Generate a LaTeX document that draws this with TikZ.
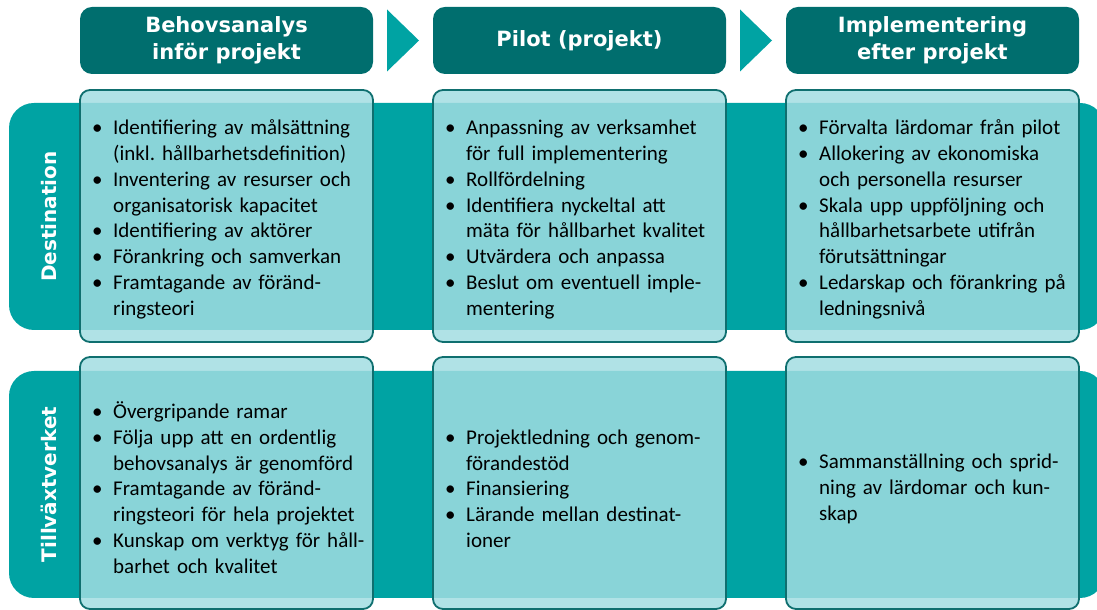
\documentclass[tikz,border=0pt]{standalone}
\usepackage{fontspec}
\setmainfont{Carlito}
\newfontfamily\headfont{DejaVu Sans}
\usepackage{xcolor}
\usepackage{tikz}
\usetikzlibrary{positioning,calc}
\frenchspacing

\definecolor{hdrteal}{HTML}{006E6E}
\definecolor{bandteal}{HTML}{00A3A3}
\definecolor{cellfill}{HTML}{A2DDE2}
\definecolor{celledge}{HTML}{0F6F6F}

% one bullet point, later lines hang under the text
\newcommand{\bpoint}[1]{\par\noindent\hangindent=21pt\hangafter=1\makebox[21pt][l]{\textbullet}#1\par}

\begin{document}
\begin{tikzpicture}[
    x=1pt, y=1pt,
    phase/.style={rectangle, rounded corners=12pt, fill=hdrteal, text=white, minimum width=293pt, minimum height=67pt, inner sep=0pt, outer sep=0pt, align=center, font=\headfont\bfseries\fontsize{21}{27}\selectfont},
    band/.style={rectangle, rounded corners=25pt, fill=bandteal, minimum width=1096pt, minimum height=227pt, inner sep=0pt, outer sep=0pt},
    rowlabel/.style={rotate=90, text=white, inner sep=0pt, font=\headfont\bfseries\fontsize{20}{24}\selectfont},
    cell/.style={rectangle, rounded corners=10pt, draw=celledge, line width=1.8pt, fill=cellfill, fill opacity=0.85, minimum width=293pt, minimum height=252pt, inner sep=0pt, outer sep=0pt},
    items/.style={anchor=west, inner sep=0pt, text width=300pt, align=left, font=\fontsize{21}{25.8}\selectfont},
    chevron/.style={fill=bandteal}
]

    \useasboundingbox (0,0) rectangle (1097,610);

    % Row bands (run out past the right edge)
    \node [band] (destBand) at (557,393.5) {};
    \node [band] (tillBand) at (557,125.5) {};
    \node [rowlabel] (destLbl) at ([xshift=40pt]destBand.west) {Destination};
    \node [rowlabel] (tillLbl) at ([xshift=40pt]tillBand.west) {Tillväxtverket};

    % Phase headers
    \node [phase] (hdrPre) at (226.5,569.5) {Behovsanalys\\inför projekt};
    \node [phase, right=60pt of hdrPre] (hdrPilot) {Pilot (projekt)};
    \node [phase, right=60pt of hdrPilot] (hdrPost) {Implementering\\efter projekt};

    %--- Chevrons between the headers ---
    \coordinate (chevA) at ($(hdrPre.east)!0.5!(hdrPilot.west)$);
    \coordinate (chevB) at ($(hdrPilot.east)!0.5!(hdrPost.west)$);
    \fill [chevron] ($(chevA)+(-16,31)$) -- ($(chevA)+(16,0)$) -- ($(chevA)+(-16,-31)$) -- cycle;
    \fill [chevron] ($(chevB)+(-16,31)$) -- ($(chevB)+(16,0)$) -- ($(chevB)+(-16,-31)$) -- cycle;

    % Cells, one per phase and row
    \node [cell, below=16pt of hdrPre] (destPre) {};
    \node [cell, below=16pt of hdrPilot] (destPilot) {};
    \node [cell, below=16pt of hdrPost] (destPost) {};
    \node [cell, below=15pt of destPre] (tillPre) {};
    \node [cell, below=15pt of destPilot] (tillPilot) {};
    \node [cell, below=15pt of destPost] (tillPost) {};

    %--- Destination row ---
    \node [items] (destPreTxt) at ([xshift=12pt, yshift=2pt]destPre.west) {%
        \bpoint{Identifiering av målsättning\newline (inkl. hållbarhetsdefinition)}
        \bpoint{Inventering av resurser och\newline organisatorisk kapacitet}
        \bpoint{Identifiering av aktörer}
        \bpoint{Förankring och samverkan}
        \bpoint{Framtagande av föränd-\newline ringsteori}};
    \node [items] (destPilotTxt) at ([xshift=12pt, yshift=2pt]destPilot.west) {%
        \bpoint{Anpassning av verksamhet\newline för full implementering}
        \bpoint{Rollfördelning}
        \bpoint{Identifiera nyckeltal att\newline mäta för hållbarhet kvalitet}
        \bpoint{Utvärdera och anpassa}
        \bpoint{Beslut om eventuell imple-\newline mentering}};
    \node [items] (destPostTxt) at ([xshift=12pt, yshift=2pt]destPost.west) {%
        \bpoint{Förvalta lärdomar från pilot}
        \bpoint{Allokering av ekonomiska\newline och personella resurser}
        \bpoint{Skala upp uppföljning och\newline hållbarhetsarbete utifrån\newline förutsättningar}
        \bpoint{Ledarskap och förankring på\newline ledningsnivå}};

    %--- Tillväxtverket row ---
    \node [items] (tillPreTxt) at ([xshift=12pt]tillPre.west) {%
        \bpoint{Övergripande ramar}
        \bpoint{Följa upp att en ordentlig\newline behovsanalys är genomförd}
        \bpoint{Framtagande av föränd-\newline ringsteori för hela projektet}
        \bpoint{Kunskap om verktyg för håll-\newline barhet och kvalitet}};
    \node [items] (tillPilotTxt) at ([xshift=12pt]tillPilot.west) {%
        \bpoint{Projektledning och genom-\newline förandestöd}
        \bpoint{Finansiering}
        \bpoint{Lärande mellan destinat-\newline ioner}};
    \node [items] (tillPostTxt) at ([xshift=12pt]tillPost.west) {%
        \bpoint{Sammanställning och sprid-\newline ning av lärdomar och kun-\newline skap}};

\end{tikzpicture}
\end{document}
